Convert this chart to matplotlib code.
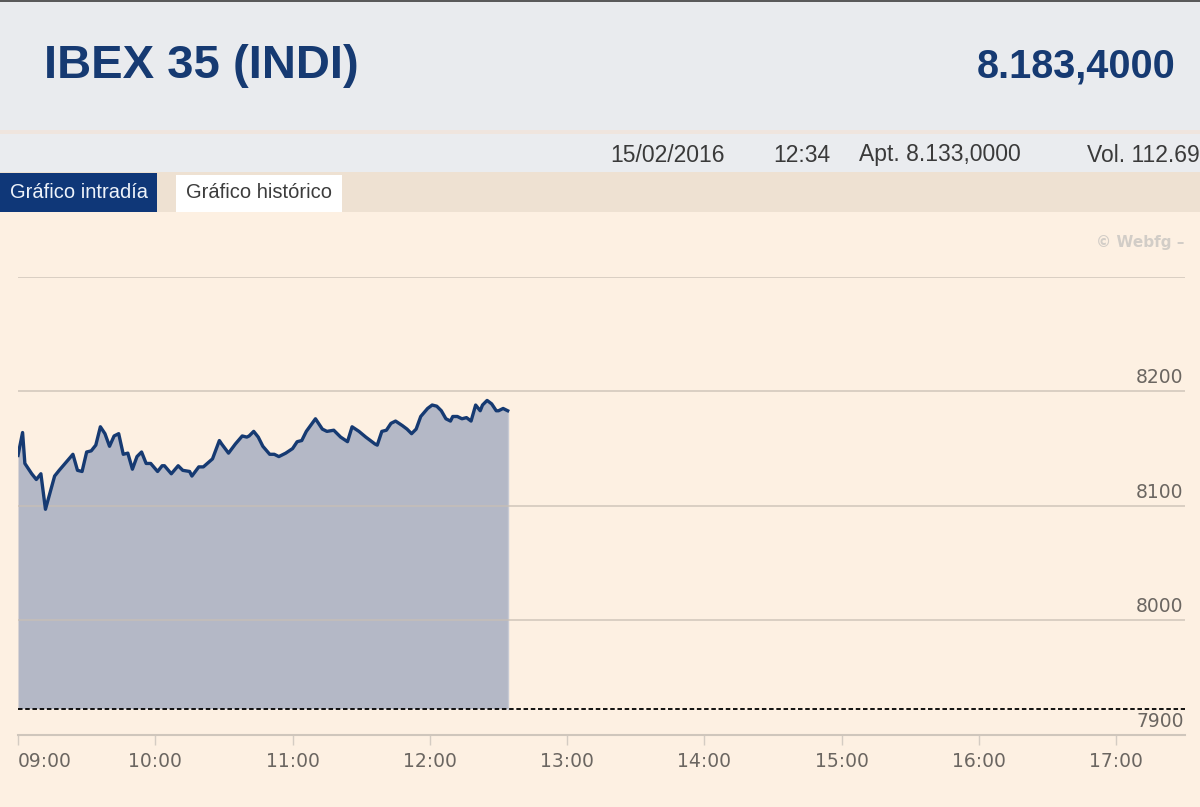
import matplotlib
matplotlib.use("Agg")
import matplotlib.pyplot as plt
from matplotlib.patches import Rectangle
from matplotlib import transforms

# intraday IBEX 35, 15/02/2016 (minutes after 09:00, index value)
minutes = [0, 2, 3, 6, 8, 10, 12, 16, 18, 21, 24, 26, 28, 30, 32, 34, 36, 38, 40, 42,
           44, 46, 48, 50, 52, 54, 56, 58, 61, 63, 64, 67, 70, 72, 75, 76, 79, 81, 85, 88,
           89, 92, 95, 98, 100, 101, 103, 105, 107, 110, 112, 114, 117, 120, 122, 124, 126, 130, 133, 135,
           138, 141, 144, 146, 149, 152, 156, 157, 159, 161, 163, 165, 168, 170, 172, 174, 176, 179, 181, 183,
           185, 187, 189, 190, 192, 194, 196, 198, 200, 202, 203, 205, 207, 209, 210, 212, 214]
values = [8144, 8164, 8137, 8128, 8123, 8128, 8097, 8126, 8131, 8138, 8145, 8131, 8130, 8147, 8148, 8153, 8169, 8163, 8152, 8161,
          8163, 8145, 8146, 8132, 8143, 8147, 8137, 8137, 8130, 8135, 8135, 8128, 8135, 8131, 8130, 8126, 8134, 8134, 8141, 8157,
          8154, 8146, 8154, 8161, 8160, 8161, 8165, 8160, 8152, 8145, 8145, 8143, 8146, 8150, 8156, 8157, 8165, 8176, 8167, 8165,
          8166, 8160, 8156, 8169, 8165, 8160, 8154, 8153, 8165, 8166, 8172, 8174, 8170, 8167, 8163, 8167, 8178, 8185, 8188, 8187,
          8183, 8176, 8174, 8178, 8178, 8176, 8177, 8174, 8188, 8183, 8188, 8192, 8189, 8183, 8183, 8185, 8183]
prev_close = 7923

hour_ticks = [9, 10, 11, 12, 13, 14, 15, 16, 17]
hour_labels = ["09:00", "10:00", "11:00", "12:00", "13:00", "14:00", "15:00", "16:00", "17:00"]
y_ticks = [7900, 8000, 8100, 8200, 8300]
y_labels = ["7900", "8000", "8100", "8200", ""]

title = "IBEX 35 (INDI)"
price = "8.183,4000"
info = [("15/02/2016", 610), ("12:34", 773), ("Apt. 8.133,0000", 859), ("Vol. 112.69", 1087)]

W, H = 1200, 807
BG = "#fdf0e2"
NAVY = "#163a72"

fig = plt.figure(figsize=(W / 100, H / 100), dpi=100)
fig.patch.set_facecolor(BG)

# header drawn in pixel coordinates
hd = fig.add_axes([0, 0, 1, 1])
hd.set_xlim(0, W)
hd.set_ylim(H, 0)
hd.axis("off")
hd.add_patch(Rectangle((0, 0), W, 130, color="#e9ebee", lw=0))
hd.add_patch(Rectangle((0, 0), W, 2, color="#5a5a5a", lw=0))
hd.add_patch(Rectangle((0, 130), W, 4, color="#efe5de", lw=0))
hd.add_patch(Rectangle((0, 134), W, 38, color="#eaecef", lw=0))
hd.add_patch(Rectangle((0, 172), W, 40, color="#eee1d2", lw=0))
hd.add_patch(Rectangle((0, 173), 157, 39, color="#0f3778", lw=0))
hd.add_patch(Rectangle((176, 175), 166, 37, color="white", lw=0))

hd.text(44, 66, title, fontsize=34, fontweight="bold", color=NAVY,
        family="Liberation Sans", va="center", ha="left")
hd.text(1176, 66, price, fontsize=28.5, fontweight="bold", color=NAVY,
        family="Liberation Sans", va="center", ha="right")
for txt, x in info:
    hd.text(x, 155, txt, fontsize=16.5, color="#3a3a3a",
            family="Liberation Sans", va="center", ha="left")
hd.text(79, 193, "Gráfico intradía", fontsize=14.5, color="#eef3fa",
        family="Liberation Sans", va="center", ha="center")
hd.text(259, 193, "Gráfico histórico", fontsize=14.5, color="#3c3c3c",
        family="Liberation Sans", va="center", ha="center")
hd.text(1185, 243, "© Webfg –", fontsize=11, fontweight="bold", color="#d2cdc7",
        family="DejaVu Sans", va="center", ha="right")

# chart
ax = fig.add_axes([18 / W, 1 - 735 / H, 1167 / W, 458.3 / H])
ax.set_facecolor("none")
x = [9 + m / 60 for m in minutes]
ax.fill_between(x, values, prev_close, color="#b4b8c6", lw=0, zorder=1)
ax.plot([x[-1], x[-1]], [prev_close, values[-1]], color="#c7cad4", lw=1, zorder=1)
for v in y_ticks[1:]:
    ax.axhline(v, color="#c9bfb4", lw=1.2, alpha=0.8, zorder=2)
ax.plot(x, values, color=NAVY, lw=2.4, zorder=4, solid_joinstyle="round")
ax.axhline(prev_close, color="black", lw=1.3, ls=(0, (2.5, 1.5)), zorder=5)

ax.set_xlim(9, 17.5)
ax.set_ylim(7900, 8300)
for s in ["top", "right", "left"]:
    ax.spines[s].set_visible(False)
ax.spines["bottom"].set_color("#cfc6bc")
ax.spines["bottom"].set_linewidth(1.5)
ax.set_xticks(hour_ticks)
ax.set_xticklabels(hour_labels)
ax.tick_params(axis="x", length=7, width=1, color="#d4ccc3", labelsize=13.5,
               labelcolor="#6b6661", pad=5)
ax.get_xticklabels()[0].set_horizontalalignment("left")
ax.set_yticks([])

trans = transforms.blended_transform_factory(ax.transAxes, ax.transData)
for v, lab in zip(y_ticks, y_labels):
    ax.annotate(lab, (1.0, v), xycoords=trans, xytext=(-1, 3), textcoords="offset points",
                ha="right", va="bottom", fontsize=13.5, color="#6b6661")

fig.savefig("out.png", dpi=100, facecolor=fig.get_facecolor())
